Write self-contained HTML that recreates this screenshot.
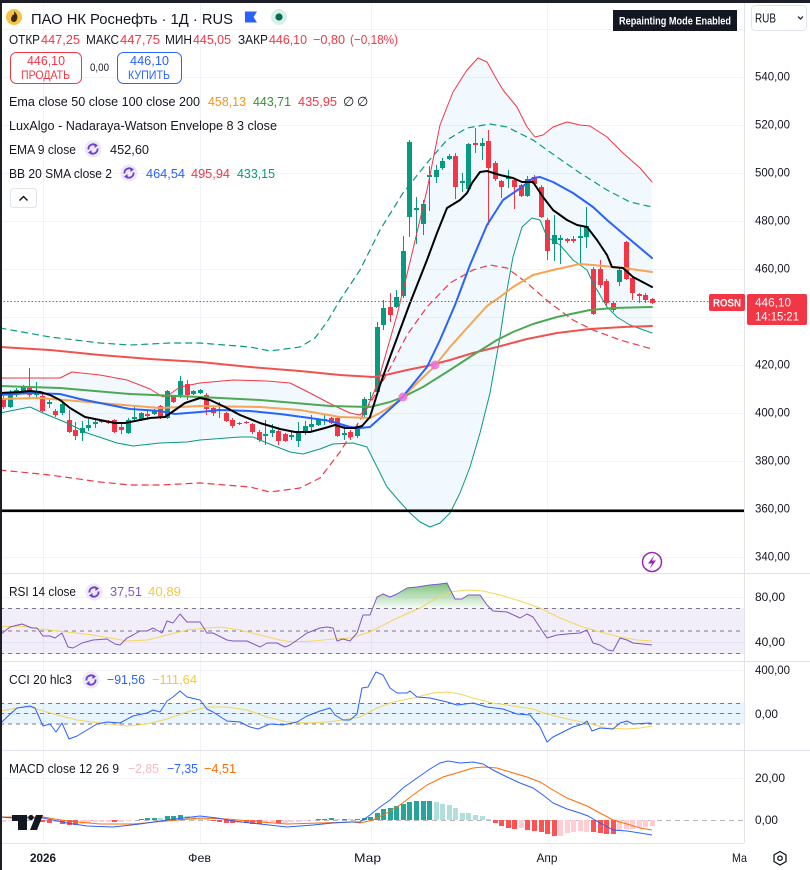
<!DOCTYPE html>
<html><head><meta charset="utf-8"><style>
html,body{margin:0;padding:0;background:#fff;width:810px;height:870px;overflow:hidden}
svg{display:block}
</style></head><body>
<svg width="810" height="870" viewBox="0 0 810 870" xmlns="http://www.w3.org/2000/svg" font-family="'Liberation Sans', 'DejaVu Sans', sans-serif" fill="#131722">
<rect x="0" y="0" width="810" height="870" fill="#fff"/>
<!-- grid -->
<g stroke="#f0f3fa" stroke-width="1">
<path d="M0 29.5H744M0 77.5H744M0 125.5H744M0 173.5H744M0 221.5H744M0 269.5H744M0 317.5H744M0 365.5H744M0 413.5H744M0 461.5H744M0 509.5H744M0 557.5H744"/>
<path d="M0 597.5H744M0 642.5H744M0 670.5H744M0 713.5H744M0 778.5H744"/>
<path d="M43.5 3V843M200.5 3V843M371.5 3V843M547.5 3V843"/>
</g>
<!-- BB fill -->
<polygon fill="rgba(33,150,243,0.06)" points="0,378 60,378 72,372 100,375 127,380 150,389 163,397 170,394 180,387 200,383 233,380 267,381 290,383 310,393 327,402 337,407 350,413 360,415 367,408 377,385 387,350 397,315 410,262 427,190 440,125 453,92 467,70 478,58 487,62 497,80 503,90 517,107 527,127 535,137 543,135 553,127 567,122 580,125 590,126 607,137 623,153 640,168 652,182 652,333 630,325 617,317 607,307 593,283 587,270 573,260 560,245 547,237 540,220 532,218 522,227 513,257 507,290 500,337 490,393 480,433 470,467 460,493 450,513 440,523 430,527 420,522 410,513 400,502 387,487 377,467 367,447 353,443 333,444 320,449 303,454 290,452 267,443 253,437 240,437 200,440 187,442 160,443 133,446 117,443 87,433 67,423 43,413 30,407 0,413"/>
<!-- candles -->
<path stroke="#089981" stroke-width="1" fill="none" d="M10.5 390V408M16.5 388V397M23.5 385V393M36.5 382V398M49.5 398V408M62.5 400V415M82.5 421V441M88.5 419V431M95.5 418V428M101.5 420V423M128.5 418V434M134.5 405V422M141.5 412V421M154.5 409V415M167.5 390V419M180.5 376V398M193.5 390V395M200.5 389V394M219.5 402V418M239.5 422V425M265.5 420V445M272.5 424V437M291.5 432V440M298.5 422V447M305.5 421V435M311.5 415V432M318.5 418V426M324.5 414V425M344.5 426V440M357.5 424V438M364.5 397V417M370.5 392V401M377.5 322V393M383.5 300V330M396.5 290V308M403.5 236V298M409.5 140V237M416.5 197V244M423.5 200V235M429.5 166V211M436.5 165V183M442.5 158V170M449.5 154V160M462.5 173V192M468.5 143V190M482.5 138V160M508.5 170V188M527.5 176V197M554.5 215V261M560.5 235V264M580.5 227V263M586.5 207V248M619.5 268V286"/>
<g fill="#089981">
<rect x="8" y="392" width="5" height="15"/><rect x="14" y="390" width="5" height="5"/><rect x="21" y="387" width="5" height="5"/><rect x="34" y="392" width="5" height="3"/><rect x="47" y="402" width="5" height="2"/><rect x="60" y="404" width="5" height="9"/><rect x="80" y="428" width="5" height="5"/><rect x="86" y="425" width="5" height="3"/><rect x="93" y="422" width="5" height="2"/><rect x="99" y="421" width="5" height="1"/><rect x="126" y="420" width="5" height="13"/><rect x="132" y="417" width="5" height="2"/><rect x="139" y="413" width="5" height="7"/><rect x="152" y="410" width="5" height="4"/><rect x="165" y="391" width="5" height="27"/><rect x="178" y="381" width="5" height="14"/><rect x="191" y="391" width="5" height="3"/><rect x="198" y="390" width="5" height="3"/><rect x="217" y="409" width="5" height="2"/><rect x="237" y="423" width="5" height="1"/><rect x="263" y="434" width="5" height="2"/><rect x="270" y="430" width="5" height="3"/><rect x="289" y="435" width="5" height="2"/><rect x="296" y="433" width="5" height="8"/><rect x="303" y="426" width="5" height="7"/><rect x="309" y="424" width="5" height="3"/><rect x="316" y="419" width="5" height="6"/><rect x="322" y="419" width="5" height="2"/><rect x="342" y="433" width="5" height="2"/><rect x="355" y="426" width="5" height="10"/><rect x="362" y="399" width="5" height="16"/><rect x="368" y="399" width="5" height="1"/><rect x="375" y="327" width="5" height="65"/><rect x="381" y="308" width="5" height="17"/><rect x="394" y="297" width="5" height="10"/><rect x="401" y="251" width="5" height="45"/><rect x="407" y="142" width="5" height="75"/><rect x="414" y="208" width="5" height="2"/><rect x="421" y="204" width="5" height="20"/><rect x="427" y="175" width="5" height="2"/><rect x="434" y="170" width="5" height="7"/><rect x="440" y="161" width="5" height="7"/><rect x="447" y="156" width="5" height="3"/><rect x="460" y="181" width="5" height="2"/><rect x="466" y="144" width="5" height="45"/><rect x="480" y="143" width="5" height="3"/><rect x="506" y="177" width="5" height="2"/><rect x="525" y="179" width="5" height="17"/><rect x="552" y="235" width="5" height="9"/><rect x="558" y="238" width="5" height="2"/><rect x="578" y="236" width="5" height="2"/><rect x="584" y="226" width="5" height="11"/><rect x="617" y="270" width="5" height="12"/>
</g>
<path stroke="#f23645" stroke-width="1" fill="none" d="M3.5 396V409M29.5 368V397M42.5 394V412M55.5 409V417M69.5 410V433M75.5 422V440M108.5 420V424M114.5 419V433M121.5 424V434M147.5 411V420M160.5 405V419M173.5 395V403M187.5 380V400M206.5 393V415M213.5 406V416M226.5 412V422M232.5 418V428M246.5 421V424M252.5 423V434M259.5 430V442M278.5 430V445M285.5 433V442M331.5 417V424M337.5 417V437M350.5 430V440M390.5 293V322M455.5 153V199M475.5 128V153M488.5 130V225M495.5 161V181M501.5 180V198M514.5 178V209M521.5 184V197M534.5 175V186M541.5 185V218M547.5 218V260M567.5 238V243M573.5 236V243M593.5 267V315M600.5 260V288M606.5 279V306M613.5 301V312M626.5 241V280M632.5 277V300M639.5 293V303M645.5 293V303M652.5 298V304"/>
<g fill="#f23645">
<rect x="1" y="398" width="5" height="9"/><rect x="27" y="388" width="5" height="7"/><rect x="40" y="396" width="5" height="15"/><rect x="53" y="411" width="5" height="4"/><rect x="67" y="420" width="5" height="12"/><rect x="73" y="430" width="5" height="6"/><rect x="106" y="421" width="5" height="2"/><rect x="112" y="420" width="5" height="12"/><rect x="119" y="427" width="5" height="3"/><rect x="145" y="414" width="5" height="2"/><rect x="158" y="406" width="5" height="12"/><rect x="171" y="396" width="5" height="6"/><rect x="185" y="384" width="5" height="11"/><rect x="204" y="395" width="5" height="14"/><rect x="211" y="408" width="5" height="5"/><rect x="224" y="413" width="5" height="8"/><rect x="230" y="420" width="5" height="6"/><rect x="244" y="422" width="5" height="1"/><rect x="250" y="424" width="5" height="8"/><rect x="257" y="432" width="5" height="8"/><rect x="276" y="431" width="5" height="10"/><rect x="283" y="434" width="5" height="7"/><rect x="329" y="418" width="5" height="5"/><rect x="335" y="418" width="5" height="18"/><rect x="348" y="432" width="5" height="5"/><rect x="388" y="307" width="5" height="8"/><rect x="453" y="156" width="5" height="31"/><rect x="473" y="143" width="5" height="2"/><rect x="486" y="141" width="5" height="27"/><rect x="493" y="163" width="5" height="16"/><rect x="499" y="181" width="5" height="6"/><rect x="512" y="180" width="5" height="7"/><rect x="519" y="185" width="5" height="11"/><rect x="532" y="177" width="5" height="7"/><rect x="539" y="187" width="5" height="30"/><rect x="545" y="220" width="5" height="31"/><rect x="565" y="239" width="5" height="2"/><rect x="571" y="239" width="5" height="2"/><rect x="591" y="269" width="5" height="45"/><rect x="598" y="269" width="5" height="16"/><rect x="604" y="281" width="5" height="22"/><rect x="611" y="303" width="5" height="7"/><rect x="624" y="242" width="5" height="37"/><rect x="630" y="278" width="5" height="15"/><rect x="637" y="294" width="5" height="2"/><rect x="643" y="295" width="5" height="5"/><rect x="650" y="299" width="5" height="4"/>
</g>
<!-- overlay lines -->
<g fill="none" stroke-linejoin="round" stroke-linecap="round">
<polyline stroke="#089981" stroke-width="1.2" stroke-dasharray="6 5" points="0,328 50,337 100,343 130,345 170,343 200,343 250,347 270,351 300,347 315,338 327,322 340,300 360,270 380,230 403,193 427,163 447,140 467,128 490,124 507,127 533,140 557,157 580,173 607,190 630,202 652,207"/>
<polyline stroke="#f23645" stroke-width="1.2" stroke-dasharray="6 5" points="0,470 50,475 100,482 130,485 160,485 200,483 250,487 270,492 300,488 320,478 340,452 350,436 360,420 375,395 390,368 407,335 427,307 450,283 473,270 490,265 507,268 527,283 550,303 573,320 593,330 620,340 652,349"/>
<polyline stroke="#f23645" stroke-width="1" points="0,378 60,378 72,372 100,375 127,380 150,389 163,397 170,394 180,387 200,383 233,380 267,381 290,383 310,393 327,402 337,407 350,413 360,415 367,408 377,385 387,350 397,315 410,262 427,190 440,125 453,92 467,70 478,58 487,62 497,80 503,90 517,107 527,127 535,137 543,135 553,127 567,122 580,125 590,126 607,137 623,153 640,168 652,182"/>
<polyline stroke="#089981" stroke-width="1" points="0,413 30,407 43,413 67,423 87,433 117,443 133,446 160,443 187,442 200,440 240,437 253,437 267,443 290,452 303,454 320,449 333,444 353,443 367,447 377,467 387,487 400,502 410,513 420,522 430,527 440,523 450,513 460,493 470,467 480,433 490,393 500,337 507,290 513,257 522,227 532,218 540,220 547,237 560,245 573,260 587,270 593,283 607,307 617,317 630,325 652,333"/>
<polyline stroke="#ef5350" stroke-width="2" points="0,347 50,350 100,355 150,359 200,362 250,367 300,371 340,375 373,377 390,374 407,370 427,366 450,360 473,353 497,347 527,339 557,333 590,329 623,327 652,326"/>
<polyline stroke="#4ea853" stroke-width="2" points="0,386 60,388 130,394 200,397 260,400 330,406 370,407 390,402 403,397 423,387 450,370 473,355 497,340 513,332 533,324 557,317 590,310 613,308 652,307"/>
<polyline stroke="#f6a455" stroke-width="2" points="0,399 40,398 100,403 160,408 200,406 260,407 300,410 340,417 370,418 380,413 393,405 403,397 417,383 433,368 450,347 467,328 487,306 500,297 513,287 533,275 553,270 580,264 593,265 623,268 652,272"/>
<polyline stroke="#2962ff" stroke-width="2" points="0,395 30,393 60,394 80,399 100,403 130,409 160,411 175,414 200,412 220,410 250,411 280,414 310,418 330,421 350,427 360,428 370,427 380,418 400,400 427,367 440,340 455,305 470,265 487,225 503,200 522,187 533,178 540,177 553,182 573,193 593,207 607,220 627,237 652,258"/>
<polyline stroke="#000" stroke-width="2" points="0,393 20,392 30,391 40,392 50,395 60,400 70,408 85,417 100,420 115,423 125,423 140,420 150,418 165,417 175,410 185,403 200,398 210,400 225,407 240,415 260,423 280,429 295,432 310,432 325,428 335,425 345,428 355,428 362,426 370,417 380,385 390,357 400,330 410,303 427,260 437,233 447,208 460,200 467,193 472,183 480,172 487,171 500,175 513,178 522,182 533,182 543,197 553,210 567,220 577,225 587,227 597,240 607,255 612,267 623,268 633,277 652,287"/>
</g>
<circle cx="403" cy="397" r="4.5" fill="#ee6fd8" opacity="0.85"/>
<circle cx="435" cy="365" r="4.5" fill="#ee6fd8" opacity="0.85"/>
<!-- horizontal drawn line & price line -->
<rect x="0" y="509.5" width="744" height="2.6" fill="#000"/>
<path d="M0 301.5H709" stroke="#f23645" stroke-width="1" stroke-dasharray="1.5 2"/>
<!-- lightning icon -->
<circle cx="652" cy="562" r="9.5" fill="#fff" stroke="#9c27b0" stroke-width="1.5"/>
<path d="M654.5,555 L648,563.5 L652,563.5 L649.5,569 L656,560.5 L652,560.5 Z" fill="#9c27b0"/>

<!-- pane separators and axes -->
<g stroke="#e0e3eb" stroke-width="1">
<path d="M0 573.5H810M0 661.5H810M0 750.5H810M0 843.5H744"/>
<path d="M744.5 3V843"/>
</g>

<!-- RSI pane -->
<rect x="0" y="608" width="744" height="46" fill="rgba(126,87,194,0.1)"/>
<g stroke="#787b86" stroke-width="1" stroke-dasharray="4 4">
<path d="M0 608.5H744M0 631H744M0 653.5H744"/>
</g>
<defs><linearGradient id="g1" x1="0" y1="574" x2="0" y2="608" gradientUnits="userSpaceOnUse"><stop offset="0" stop-color="#4caf50" stop-opacity="1"/><stop offset="1" stop-color="#4caf50" stop-opacity="0.05"/></linearGradient></defs>
<polygon fill="url(#g1)" points="373,608 377,597 383,594 390,597 397,594 407,588 417,587 430,585 440,584 447,583 455,599 462,599 468,595 480,595 487,605 489,608"/>
<polyline fill="none" stroke="#f6d55c" stroke-width="1" points="0,627 20,626 40,629 67,632 93,635 110,638 127,641 147,640 167,635 187,630 207,628 220,627 240,630 260,635 280,640 293,642 313,641 333,639 350,638 360,635 370,632 393,620 420,608 437,598 450,592 467,590 483,591 500,595 520,601 540,608 560,618 580,626 600,632 620,637 637,640 652,641"/>
<polyline fill="none" stroke="#7e57c2" stroke-width="1" stroke-linejoin="round" points="0,635 10,627 22,624 32,628 37,628 43,636 50,636 55,638 62,633 68,647 73,648 82,643 93,640 107,639 115,644 120,645 127,638 133,635 140,631 147,631 153,628 162,633 167,621 173,623 180,614 187,622 200,622 207,633 213,633 227,640 233,641 247,641 260,647 267,643 277,643 285,647 290,645 300,638 307,633 320,628 327,627 333,628 337,641 343,639 350,641 357,633 363,615 370,615 377,597 383,594 390,597 397,594 407,588 417,587 430,585 440,584 447,583 455,599 462,599 468,595 480,595 487,605 493,611 507,612 520,618 527,614 533,617 547,638 557,635 567,634 580,633 587,630 593,643 600,645 608,650 613,651 620,638 627,640 633,643 643,644 652,645"/>

<!-- CCI pane -->
<rect x="0" y="703" width="744" height="21" fill="rgba(33,150,243,0.1)"/>
<g stroke="#787b86" stroke-width="1" stroke-dasharray="4 4">
<path d="M0 703.5H744M0 713.5H744M0 724H744"/>
</g>
<polyline fill="none" stroke="#f6d55c" stroke-width="1" points="0,711 17,708 30,707 50,713 77,720 100,723 127,726 147,724 167,719 187,712 207,707 227,707 247,710 267,717 287,722 307,723 327,722 343,720 360,717 377,708 393,702 413,698 433,693 447,692 460,694 473,698 493,703 513,706 533,709 547,714 567,719 587,723 607,728 627,729 640,728 652,726"/>
<polyline fill="none" stroke="#2962ff" stroke-width="1" stroke-linejoin="round" points="0,724 7,717 17,708 30,706 35,708 43,726 50,724 56,732 62,723 69,739 77,736 87,730 97,724 107,722 120,723 133,716 147,713 153,710 160,712 167,701 173,697 180,691 187,697 200,700 207,709 213,712 227,721 240,722 250,727 258,729 270,724 283,725 297,722 307,716 320,711 330,708 335,715 343,720 350,720 357,714 362,688 368,687 376,672 383,675 390,688 397,693 407,693 410,691 417,697 430,698 447,702 457,705 473,703 487,707 503,709 517,714 530,715 540,727 547,742 553,737 563,732 573,727 583,724 587,721 592,731 600,728 613,729 620,723 627,721 633,724 650,723 652,724"/>

<!-- MACD pane -->
<path d="M0 820.5H744" stroke="rgba(120,123,134,0.55)" stroke-width="1" stroke-dasharray="5 4"/>
<g fill="#ffcdd2">
<rect x="1" y="820" width="5" height="2"/><rect x="8" y="820" width="5" height="1"/><rect x="14" y="820" width="5" height="1"/><rect x="53" y="820" width="5" height="2"/><rect x="80" y="820" width="5" height="4"/><rect x="86" y="820" width="5" height="3"/><rect x="93" y="820" width="5" height="2"/><rect x="99" y="820" width="5" height="2"/><rect x="106" y="820" width="5" height="2"/><rect x="119" y="820" width="5" height="2"/><rect x="126" y="820" width="5" height="1"/><rect x="237" y="820" width="5" height="3"/><rect x="263" y="820" width="5" height="3"/><rect x="270" y="820" width="5" height="2"/><rect x="283" y="820" width="5" height="3"/><rect x="289" y="820" width="5" height="2"/><rect x="296" y="820" width="5" height="2"/><rect x="303" y="820" width="5" height="1"/><rect x="519" y="820" width="5" height="8"/><rect x="558" y="820" width="5" height="16"/><rect x="565" y="820" width="5" height="13"/><rect x="571" y="820" width="5" height="12"/><rect x="578" y="820" width="5" height="11"/><rect x="584" y="820" width="5" height="12"/><rect x="617" y="820" width="5" height="11"/><rect x="624" y="820" width="5" height="9"/><rect x="630" y="820" width="5" height="9"/><rect x="637" y="820" width="5" height="8"/><rect x="643" y="820" width="5" height="7"/><rect x="650" y="820" width="5" height="6"/>
</g>
<g fill="#ff5252">
<rect x="40" y="820" width="5" height="2"/><rect x="47" y="820" width="5" height="3"/><rect x="60" y="820" width="5" height="4"/><rect x="67" y="820" width="5" height="5"/><rect x="73" y="820" width="5" height="5"/><rect x="112" y="820" width="5" height="2"/><rect x="211" y="820" width="5" height="1"/><rect x="217" y="820" width="5" height="2"/><rect x="224" y="820" width="5" height="3"/><rect x="230" y="820" width="5" height="3"/><rect x="244" y="820" width="5" height="3"/><rect x="250" y="820" width="5" height="4"/><rect x="257" y="820" width="5" height="4"/><rect x="276" y="820" width="5" height="3"/><rect x="493" y="820" width="5" height="3"/><rect x="499" y="820" width="5" height="6"/><rect x="506" y="820" width="5" height="8"/><rect x="512" y="820" width="5" height="9"/><rect x="525" y="820" width="5" height="10"/><rect x="532" y="820" width="5" height="11"/><rect x="539" y="820" width="5" height="12"/><rect x="545" y="820" width="5" height="14"/><rect x="552" y="820" width="5" height="16"/><rect x="591" y="820" width="5" height="12"/><rect x="598" y="820" width="5" height="13"/><rect x="604" y="820" width="5" height="14"/><rect x="611" y="820" width="5" height="14"/>
</g>
<g fill="#26a69a">
<rect x="139" y="819" width="5" height="1"/><rect x="145" y="818" width="5" height="2"/><rect x="152" y="818" width="5" height="2"/><rect x="165" y="816" width="5" height="4"/><rect x="171" y="816" width="5" height="4"/><rect x="178" y="815" width="5" height="5"/><rect x="316" y="819" width="5" height="1"/><rect x="322" y="819" width="5" height="1"/><rect x="329" y="818" width="5" height="2"/><rect x="342" y="819" width="5" height="1"/><rect x="355" y="819" width="5" height="1"/><rect x="362" y="818" width="5" height="2"/><rect x="368" y="817" width="5" height="3"/><rect x="375" y="813" width="5" height="7"/><rect x="381" y="809" width="5" height="11"/><rect x="388" y="808" width="5" height="12"/><rect x="394" y="806" width="5" height="14"/><rect x="401" y="804" width="5" height="16"/><rect x="407" y="802" width="5" height="18"/><rect x="414" y="801" width="5" height="19"/><rect x="421" y="801" width="5" height="19"/><rect x="427" y="801" width="5" height="19"/>
</g>
<g fill="#b2dfdb">
<rect x="27" y="819" width="5" height="1"/><rect x="158" y="818" width="5" height="2"/><rect x="185" y="816" width="5" height="4"/><rect x="191" y="817" width="5" height="3"/><rect x="198" y="818" width="5" height="2"/><rect x="204" y="819" width="5" height="1"/><rect x="335" y="819" width="5" height="1"/><rect x="348" y="819" width="5" height="1"/><rect x="434" y="802" width="5" height="18"/><rect x="440" y="804" width="5" height="16"/><rect x="447" y="805" width="5" height="15"/><rect x="453" y="808" width="5" height="12"/><rect x="460" y="813" width="5" height="7"/><rect x="466" y="813" width="5" height="7"/><rect x="473" y="815" width="5" height="5"/><rect x="480" y="816" width="5" height="4"/><rect x="486" y="819" width="5" height="1"/>
</g>
<polyline fill="none" stroke="#ff6d00" stroke-width="1" points="0,817 43,817 67,821 100,824 133,824 167,821 200,818 227,819 260,822 287,824 320,823 353,822 360,823 373,820 387,813 400,805 413,795 427,785 443,777 460,772 473,768 483,767 497,768 510,772 527,777 540,782 553,790 567,798 587,806 600,813 613,820 627,824 640,828 652,830"/>
<polyline fill="none" stroke="#2962ff" stroke-width="1" points="0,817 13,818 43,818 67,823 87,826 113,827 140,824 167,820 200,816 217,818 233,821 260,824 287,827 313,825 333,823 350,822 360,822 370,815 380,807 390,800 403,788 417,778 430,769 440,763 448,761 460,763 473,762 483,764 493,770 507,777 520,783 533,788 543,795 553,803 567,809 580,813 588,816 600,823 613,830 627,831 640,833 652,835"/>
<!-- TV logo -->
<path d="M12,815H27V830H18V821H12Z" fill="#131722"/>
<circle cx="31" cy="817.5" r="2.6" fill="#131722"/>
<path d="M36,815H43L37,830H30Z" fill="#131722"/>

<!-- header -->
<circle cx="14" cy="17" r="8" fill="#f6c342"/>
<path d="M14,11 C17,14 18,16 17,19 C16.5,21 15,22 14,22 C12.5,22 11,21 11,19 C11,17 12.5,16 13,14 C13.5,15.5 14.5,16 14,11Z" fill="#3a2a10"/>
<text x="31" y="24" font-size="15" textLength="202" lengthAdjust="spacingAndGlyphs">ПАО НК Роснефть · 1Д · RUS</text>
<path d="M245,11.5H257L253.5,17L257,22.5H245Z" fill="#2962ff"/>
<circle cx="279" cy="17" r="8" fill="#d8f0ea"/>
<circle cx="279" cy="17" r="3.6" fill="#0b6b52"/>
<g font-size="13">
<text x="9" y="44" textLength="31" lengthAdjust="spacingAndGlyphs">ОТКР</text>
<text x="41" y="44" fill="#f23645" textLength="39" lengthAdjust="spacingAndGlyphs">447,25</text>
<text x="86" y="44" textLength="33" lengthAdjust="spacingAndGlyphs">МАКС</text>
<text x="120" y="44" fill="#f23645" textLength="40" lengthAdjust="spacingAndGlyphs">447,75</text>
<text x="165" y="44" textLength="27" lengthAdjust="spacingAndGlyphs">МИН</text>
<text x="193" y="44" fill="#f23645" textLength="38" lengthAdjust="spacingAndGlyphs">445,05</text>
<text x="238" y="44" textLength="30" lengthAdjust="spacingAndGlyphs">ЗАКР</text>
<text x="269" y="44" fill="#f23645" textLength="38" lengthAdjust="spacingAndGlyphs">446,10</text>
<text x="313" y="44" fill="#f23645" textLength="32" lengthAdjust="spacingAndGlyphs">−0,80</text>
<text x="350" y="44" fill="#f23645" textLength="48" lengthAdjust="spacingAndGlyphs">(−0,18%)</text>
</g>
<rect x="10.5" y="52.5" width="71" height="31" rx="6" fill="#fff" stroke="#f23645" stroke-width="1"/>
<rect x="117.5" y="52.5" width="64" height="31" rx="6" fill="#fff" stroke="#2962ff" stroke-width="1"/>
<text x="46" y="65" font-size="13" fill="#f23645" text-anchor="middle" textLength="38" lengthAdjust="spacingAndGlyphs">446,10</text>
<text x="45.5" y="79" font-size="11.5" fill="#f23645" text-anchor="middle" textLength="49" lengthAdjust="spacingAndGlyphs">ПРОДАТЬ</text>
<text x="99.5" y="71" font-size="11" text-anchor="middle" textLength="19" lengthAdjust="spacingAndGlyphs">0,00</text>
<text x="149.5" y="65" font-size="13" fill="#2962ff" text-anchor="middle" textLength="39" lengthAdjust="spacingAndGlyphs">446,10</text>
<text x="149" y="79" font-size="11.5" fill="#2962ff" text-anchor="middle" textLength="42" lengthAdjust="spacingAndGlyphs">КУПИТЬ</text>

<g font-size="13">
<text x="9" y="106" textLength="191" lengthAdjust="spacingAndGlyphs">Ema close 50 close 100 close 200</text>
<text x="208" y="106" fill="#f7931a" textLength="38" lengthAdjust="spacingAndGlyphs">458,13</text>
<text x="253" y="106" fill="#388e3c" textLength="38" lengthAdjust="spacingAndGlyphs">443,71</text>
<text x="298" y="106" fill="#f23645" textLength="39" lengthAdjust="spacingAndGlyphs">435,95</text>
<text x="343" y="106">∅</text>
<text x="357" y="106">∅</text>
<text x="9" y="130" textLength="268" lengthAdjust="spacingAndGlyphs">LuxAlgo - Nadaraya-Watson Envelope 8 3 close</text>
<text x="9" y="154" textLength="67" lengthAdjust="spacingAndGlyphs">EMA 9 close</text>
<text x="110" y="154" textLength="39" lengthAdjust="spacingAndGlyphs">452,60</text>
<text x="9" y="178" textLength="103" lengthAdjust="spacingAndGlyphs">BB 20 SMA close 2</text>
<text x="146" y="178" fill="#2962ff" textLength="39" lengthAdjust="spacingAndGlyphs">464,54</text>
<text x="191" y="178" fill="#f23645" textLength="39" lengthAdjust="spacingAndGlyphs">495,94</text>
<text x="237" y="178" fill="#089981" textLength="38" lengthAdjust="spacingAndGlyphs">433,15</text>
<text x="9" y="596" textLength="67" lengthAdjust="spacingAndGlyphs">RSI 14 close</text>
<text x="110" y="596" fill="#7e57c2" textLength="32" lengthAdjust="spacingAndGlyphs">37,51</text>
<text x="148" y="596" fill="#f5c842" textLength="33" lengthAdjust="spacingAndGlyphs">40,89</text>
<text x="9" y="684" textLength="63" lengthAdjust="spacingAndGlyphs">CCI 20 hlc3</text>
<text x="107" y="684" fill="#2962ff" textLength="38" lengthAdjust="spacingAndGlyphs">−91,56</text>
<text x="152" y="684" fill="#f5c842" textLength="45" lengthAdjust="spacingAndGlyphs">−111,64</text>
<text x="9" y="773" textLength="110" lengthAdjust="spacingAndGlyphs">MACD close 12 26 9</text>
<text x="128" y="773" fill="#f7b9c2" textLength="31" lengthAdjust="spacingAndGlyphs">−2,85</text>
<text x="167" y="773" fill="#2962ff" textLength="31" lengthAdjust="spacingAndGlyphs">−7,35</text>
<text x="204" y="773" fill="#ff6d00" textLength="32" lengthAdjust="spacingAndGlyphs">−4,51</text>
</g>
<!-- refresh icons -->
<g transform="translate(93,149)"><circle r="8.5" fill="#ede7f6"/><path d="M-4.5,0.5A4.5,4.5 0 0 1 3.2,-3.2M4.5,-0.5A4.5,4.5 0 0 1 -3.2,3.2" fill="none" stroke="#6a3fd0" stroke-width="1.8"/><path d="M1.2,-5.8L5,-3.6L1.6,-1Z M-1.2,5.8L-5,3.6L-1.6,1Z" fill="#6a3fd0"/></g>
<g transform="translate(129,173)"><circle r="8.5" fill="#ede7f6"/><path d="M-4.5,0.5A4.5,4.5 0 0 1 3.2,-3.2M4.5,-0.5A4.5,4.5 0 0 1 -3.2,3.2" fill="none" stroke="#6a3fd0" stroke-width="1.8"/><path d="M1.2,-5.8L5,-3.6L1.6,-1Z M-1.2,5.8L-5,3.6L-1.6,1Z" fill="#6a3fd0"/></g>
<g transform="translate(94,592)"><circle r="8.5" fill="#ede7f6"/><path d="M-4.5,0.5A4.5,4.5 0 0 1 3.2,-3.2M4.5,-0.5A4.5,4.5 0 0 1 -3.2,3.2" fill="none" stroke="#6a3fd0" stroke-width="1.8"/><path d="M1.2,-5.8L5,-3.6L1.6,-1Z M-1.2,5.8L-5,3.6L-1.6,1Z" fill="#6a3fd0"/></g>
<g transform="translate(91,680)"><circle r="8.5" fill="#ede7f6"/><path d="M-4.5,0.5A4.5,4.5 0 0 1 3.2,-3.2M4.5,-0.5A4.5,4.5 0 0 1 -3.2,3.2" fill="none" stroke="#6a3fd0" stroke-width="1.8"/><path d="M1.2,-5.8L5,-3.6L1.6,-1Z M-1.2,5.8L-5,3.6L-1.6,1Z" fill="#6a3fd0"/></g>
<!-- collapse button -->
<rect x="10.5" y="188.5" width="26" height="19" rx="3" fill="#fff" stroke="#e0e3eb"/>
<path d="M19.5,200.5L23.5,196.5L27.5,200.5" fill="none" stroke="#131722" stroke-width="1.5"/>

<!-- repainting badge & RUB -->
<rect x="613" y="10" width="124" height="21" fill="#131722"/>
<text x="619" y="24.5" font-size="11" font-weight="bold" fill="#fff" textLength="112" lengthAdjust="spacingAndGlyphs">Repainting Mode Enabled</text>
<rect x="751.5" y="5.5" width="55" height="25" rx="4" fill="#fff" stroke="#e0e3eb"/>
<text x="755" y="22.5" font-size="13" textLength="21" lengthAdjust="spacingAndGlyphs">RUB</text>
<path d="M798,16.5L800.5,19L803,16.5" fill="none" stroke="#131722" stroke-width="1.2"/>

<!-- right axis labels -->
<g font-size="12">
<text x="755" y="80.5" textLength="35" lengthAdjust="spacingAndGlyphs">540,00</text>
<text x="755" y="128.5" textLength="35" lengthAdjust="spacingAndGlyphs">520,00</text>
<text x="755" y="176.5" textLength="35" lengthAdjust="spacingAndGlyphs">500,00</text>
<text x="755" y="224.5" textLength="35" lengthAdjust="spacingAndGlyphs">480,00</text>
<text x="755" y="272.5" textLength="35" lengthAdjust="spacingAndGlyphs">460,00</text>
<text x="755" y="368.5" textLength="35" lengthAdjust="spacingAndGlyphs">420,00</text>
<text x="755" y="416.5" textLength="35" lengthAdjust="spacingAndGlyphs">400,00</text>
<text x="755" y="464.5" textLength="35" lengthAdjust="spacingAndGlyphs">380,00</text>
<text x="755" y="512.5" textLength="35" lengthAdjust="spacingAndGlyphs">360,00</text>
<text x="755" y="560.5" textLength="35" lengthAdjust="spacingAndGlyphs">340,00</text>
<text x="755" y="601" textLength="30" lengthAdjust="spacingAndGlyphs">80,00</text>
<text x="755" y="646" textLength="30" lengthAdjust="spacingAndGlyphs">40,00</text>
<text x="755" y="674" textLength="35" lengthAdjust="spacingAndGlyphs">400,00</text>
<text x="755" y="718" textLength="23" lengthAdjust="spacingAndGlyphs">0,00</text>
<text x="755" y="782" textLength="30" lengthAdjust="spacingAndGlyphs">20,00</text>
<text x="755" y="824" textLength="23" lengthAdjust="spacingAndGlyphs">0,00</text>
</g>
<!-- price labels -->
<rect x="709" y="294" width="36" height="17" rx="2" fill="#f23645"/>
<text x="727" y="306.5" font-size="11" font-weight="bold" fill="#fff" text-anchor="middle" textLength="28" lengthAdjust="spacingAndGlyphs">ROSN</text>
<rect x="747" y="294" width="60" height="31" rx="2" fill="#f23645"/>
<text x="755" y="306.5" font-size="12" fill="#fff" textLength="36" lengthAdjust="spacingAndGlyphs">446,10</text>
<text x="755" y="320.5" font-size="12" fill="#fff" textLength="44" lengthAdjust="spacingAndGlyphs">14:15:21</text>

<!-- time axis -->
<g font-size="12">
<text x="43" y="862" font-weight="bold" text-anchor="middle" textLength="26" lengthAdjust="spacingAndGlyphs">2026</text>
<text x="199.5" y="862" text-anchor="middle" textLength="23" lengthAdjust="spacingAndGlyphs">Фев</text>
<text x="367.5" y="862" text-anchor="middle" textLength="27" lengthAdjust="spacingAndGlyphs">Мар</text>
<text x="547" y="862" text-anchor="middle" textLength="21" lengthAdjust="spacingAndGlyphs">Апр</text>
<text x="732" y="862" textLength="15" lengthAdjust="spacingAndGlyphs">Ма</text>
</g>
<path d="M780,851.5L786,855V861.5L780,865L774,861.5V855Z" fill="none" stroke="#131722" stroke-width="1.3"/>
<circle cx="780" cy="858.2" r="2.2" fill="none" stroke="#131722" stroke-width="1.3"/>

<!-- frame -->
<rect x="0" y="0" width="810" height="3" fill="#1c1f26"/>
<rect x="0" y="0" width="2" height="870" fill="#1c1f26"/>
</svg>
</body></html>
